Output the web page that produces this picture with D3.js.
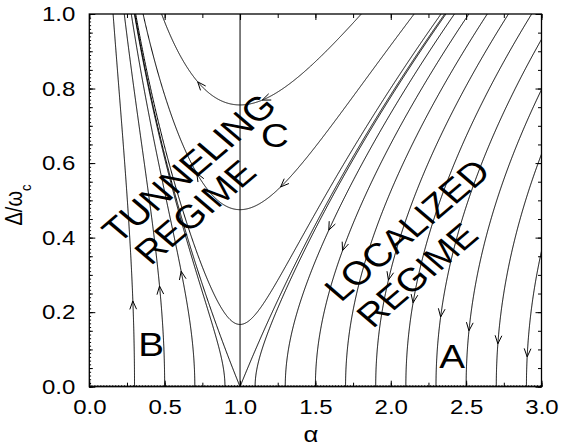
<!DOCTYPE html>
<html>
<head>
<meta charset="utf-8">
<style>
    body { margin: 0; background: #fff; }
    svg { display: block; font-family: 'Liberation Sans', Arial, Helvetica, sans-serif; }
    .flow { fill: none; stroke: #000; stroke-width: 1; }
    .tick line { stroke: #000; }
    .big { font-size: 32px; fill: #000; }
</style>
</head>
<body>
<svg width="561" height="447"></svg>

<script src="https://d3js.org/d3.v7.min.js"></script>
<script>

    // lines that leave the Δ = 0 axis at these couplings
    let alphaStarts = [0.3, 0.5, 0.7, 0.9, 1.1, 1.3, 1.5, 1.7, 1.9, 2.1, 2.3, 2.5, 2.7, 2.9];
    // lines that turn around on α = 1 at this Δ (0 = separatrix)
    let deltaMins = [0, 0.167, 0.475, 0.756];

    // arrowheads on the axis lines: start coupling and Δ where the arrow sits
    let axisArrowA = [0.3, 0.5, 0.7, 1.3, 1.5, 1.9, 2.1, 2.3, 2.5, 2.7, 2.9];
    let axisArrowD = [0.23, 0.27, 0.31, 0.42, 0.365, 0.286, 0.225, 0.187, 0.15, 0.115, 0.08];
    // arrowheads on the turning lines
    let turnArrowMin = [0.475, 0.475, 0.756, 0.756];
    let turnArrowSide = [-1, 1, -1, 1];
    let turnArrowD = [0.573, 0.536, 0.818, 0.769];

    let xTicks = [0, 0.5, 1, 1.5, 2, 2.5, 3];
    let yTicks = [0, 0.2, 0.4, 0.6, 0.8, 1];

    let margin = { top: 14, right: 19.5, bottom: 60.3, left: 89.3 };
    let width = 561 - margin.left - margin.right;
    let height = 447 - margin.top - margin.bottom;

    // the lettering is set a little wide
    let sx = 1.17;

    let svg = d3.select("svg");
    let g = svg.append("g").attr("transform", `translate(${margin.left},${margin.top})`);

    let x = d3.scaleLinear().domain([0, 3]).range([0, width]);
    let y = d3.scaleLinear().domain([0, 1]).range([height, 0]);

    // flow invariant: Δ²/2 - (α - 1 - ln α) is constant along a line
    let f = a => a - 1 - Math.log(a);
    function invF(target, side) {
        let lo = side < 0 ? 1e-6 : 1, hi = side < 0 ? 1 : 20;
        for (let i = 0; i < 80; i++) {
            let mid = (lo + hi) / 2;
            let v = f(mid);
            if (side < 0) { if (v > target) lo = mid; else hi = mid; }
            else { if (v > target) hi = mid; else lo = mid; }
        }
        return (lo + hi) / 2;
    }

    let line = d3.line().x(d => x(d[0])).y(d => y(d[1]));

    svg.append("clipPath").attr("id", "plot")
        .append("rect").attr("width", width).attr("height", height);
    let lines = g.append("g").attr("clip-path", "url(#plot)");

    // lines starting on Δ = 0
    alphaStarts.forEach(a0 => {
        let side = a0 < 1 ? -1 : 1;
        let pts = d3.range(0, 1.0001, 0.002).map(d => [invF(f(a0) + d * d / 2, side), d]);
        lines.append("path").attr("class", "flow").attr("d", line(pts));
    });

    // lines with a minimum on α = 1
    deltaMins.forEach(d0 => {
        let aL = invF((1 - d0 * d0) / 2, -1);
        let aR = invF((1 - d0 * d0) / 2, 1);
        let pts = d3.range(0, 1.0001, 0.001).map(t => {
            let a = aL + (aR - aL) * t;
            return [a, Math.sqrt(Math.max(d0 * d0 + 2 * f(a), 0))];
        });
        lines.append("path").attr("class", "flow").attr("d", line(pts));
    });

    // α = 1
    lines.append("path").attr("class", "flow").attr("d", line([[1, 0], [1, 1]]));

    // open arrowheads pointing along the flow dα = -αΔ², dΔ = (1-α)Δ
    function arrow(a, d) {
        let px = x(a), py = y(d);
        let vx = -a * d * d * (x(1) - x(0));
        let vy = -(1 - a) * d * (y(0) - y(1));
        let n = Math.hypot(vx, vy);
        vx /= n; vy /= n;
        let len = 9, ang = 22 * Math.PI / 180;
        let arms = [ang, -ang].map(t => {
            let c = Math.cos(t), s = Math.sin(t);
            return [px - len * (vx * c - vy * s), py - len * (vx * s + vy * c)];
        });
        g.append("path").attr("class", "flow")
            .attr("d", `M${arms[0][0]},${arms[0][1]}L${px},${py}L${arms[1][0]},${arms[1][1]}`);
    }

    axisArrowA.forEach((a0, i) => {
        let d = axisArrowD[i];
        arrow(invF(f(a0) + d * d / 2, a0 < 1 ? -1 : 1), d);
    });
    turnArrowMin.forEach((d0, i) => {
        let d = turnArrowD[i];
        arrow(invF((d * d - d0 * d0) / 2, turnArrowSide[i]), d);
    });

    // axes with inward ticks
    function ticks(axis, vals, size, label) {
        let a = axis.tickValues(vals).tickSizeInner(-size).tickSizeOuter(0);
        if (!label) a.tickFormat("");
        return a;
    }
    let xMinor = d3.range(0, 3.0001, 0.25);
    let xMicro = d3.range(0, 3.0001, 0.01);
    let yMinor = d3.range(0, 1.0001, 0.05);
    let yMicro = d3.range(0, 1.0001, 0.01);

    let bottom = g.append("g").attr("transform", `translate(0,${height})`);
    bottom.append("g").call(ticks(d3.axisBottom(x), xMicro, 1.5));
    bottom.append("g").call(ticks(d3.axisBottom(x), xMinor, 4));
    bottom.append("g").call(ticks(d3.axisBottom(x), xTicks, 6, true).tickFormat(d3.format(".1f")).tickPadding(12.6));

    let left = g.append("g");
    left.append("g").call(ticks(d3.axisLeft(y), yMicro, 1.8));
    left.append("g").call(ticks(d3.axisLeft(y), yMinor, 3.5));
    left.append("g").call(ticks(d3.axisLeft(y), yTicks, 6, true).tickFormat(d3.format(".1f")).tickPadding(14 / sx));

    g.append("g").call(ticks(d3.axisTop(x), xMinor, 4));
    g.append("g").call(ticks(d3.axisTop(x), xTicks, 6));
    let right = g.append("g").attr("transform", `translate(${width},0)`);
    right.append("g").call(ticks(d3.axisRight(y), yMinor, 3.5));
    right.append("g").call(ticks(d3.axisRight(y), yTicks, 6));

    g.selectAll(".domain").remove();
    g.selectAll(".tick text")
        .style("font-size", "20.5px")
        .style("font-family", "'Liberation Sans', Arial, sans-serif")
        .attr("fill", "#000")
        .attr("transform", `scale(${sx},1)`);

    g.append("rect").attr("width", width).attr("height", height)
        .attr("fill", "none").attr("stroke", "#000").attr("stroke-width", 1.3);

    // axis titles
    svg.append("text").attr("transform", `translate(311,434) scale(${sx},1)`)
        .attr("text-anchor", "middle").attr("dominant-baseline", "central")
        .style("font-size", "22px").text("α");
    let yl = svg.append("text").attr("transform", `translate(22,205) scale(${sx},1) rotate(-90)`)
        .attr("text-anchor", "middle").style("font-size", "20px");
    yl.append("tspan").text("Δ/ω");
    yl.append("tspan").attr("baseline-shift", "sub").style("font-size", "13px").text("c");

    // region labels
    function label(txt, cx, cy, rot, size) {
        svg.append("text").attr("class", "big")
            .attr("transform", `translate(${cx},${cy}) scale(${sx},1) rotate(${rot})`)
            .attr("text-anchor", "middle").attr("dominant-baseline", "central")
            .style("font-size", size + "px")
            .text(txt);
    }
    label("TUNNELING", 189, 168, -45, 33.5);
    label("REGIME", 195, 212, -45, 33);
    label("LOCALIZED", 407, 230, -45, 33);
    label("REGIME", 417, 275, -45, 33);
    label("C", 275, 136, 0, 33);
    label("B", 151, 345, 0, 33);
    label("A", 452, 357, 0, 33);

</script>
</body>
</html>
